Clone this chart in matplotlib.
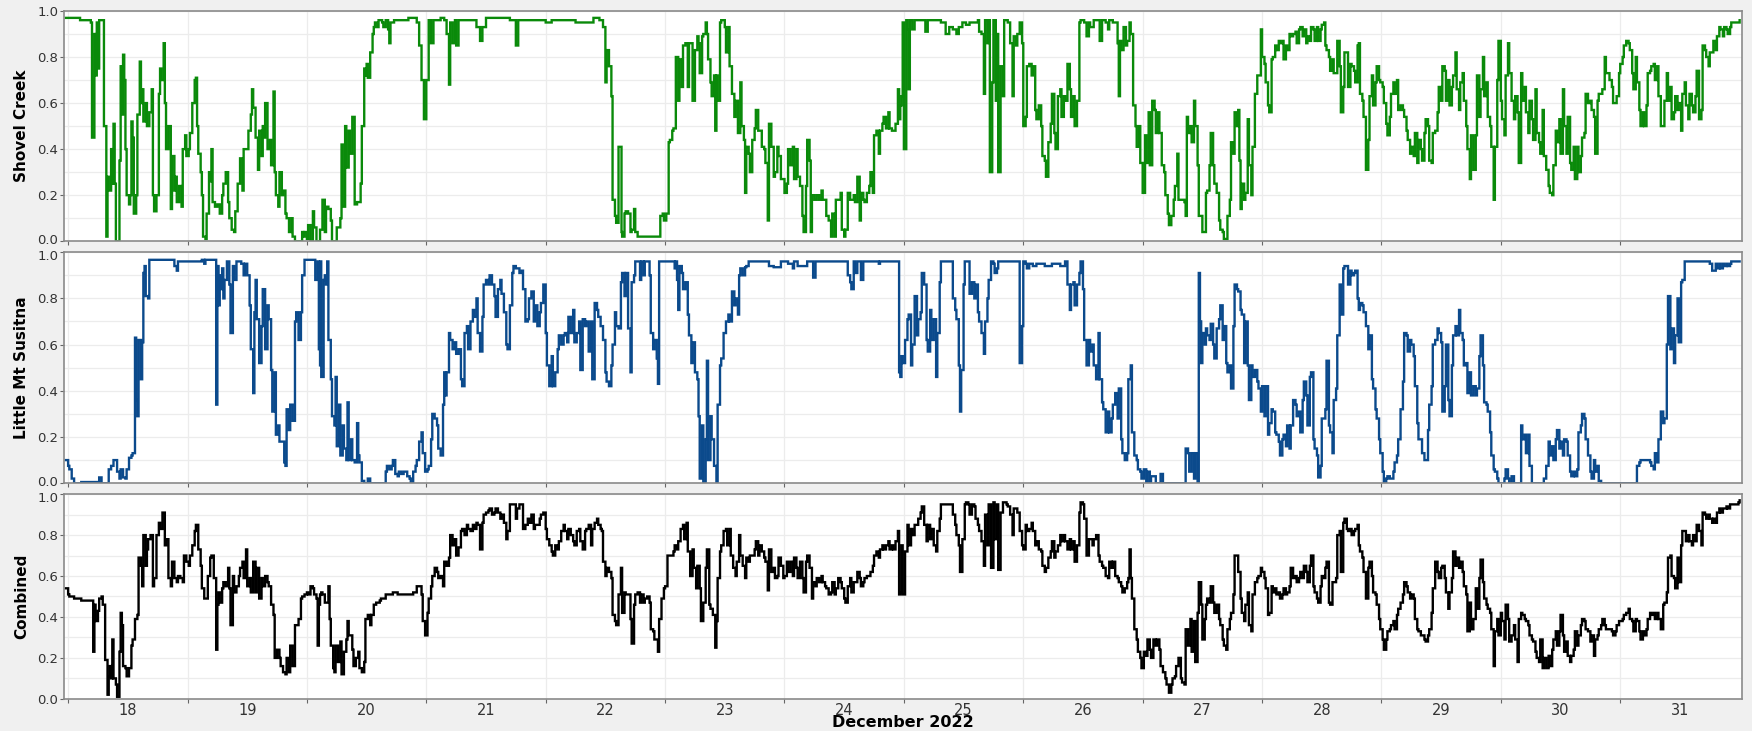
import matplotlib
matplotlib.use("Agg")
import matplotlib.pyplot as plt
import numpy as np
from matplotlib.transforms import ScaledTranslation

# (day of December 2022, value)
shovel_creek = [
    (17.48, 0.97), (17.60, 0.96), (17.69, 0.95), (17.70, 0.45), (17.72, 0.90), (17.73, 0.72), (17.74, 0.95),
    (17.75, 0.75), (17.76, 0.96), (17.79, 0.96), (17.80, 0.50), (17.82, 0.02), (17.83, 0.28), (17.84, 0.22),
    (17.86, 0.40), (17.87, 0.25), (17.88, 0.51), (17.89, 0.25), (17.90, 0.00), (17.92, 0.00), (17.93, 0.35),
    (17.94, 0.76), (17.95, 0.55), (17.96, 0.81), (17.97, 0.70), (17.98, 0.40), (17.99, 0.20), (18.01, 0.16),
    (18.02, 0.20), (18.03, 0.52), (18.04, 0.45), (18.05, 0.12), (18.07, 0.20), (18.08, 0.55), (18.10, 0.78),
    (18.11, 0.60), (18.12, 0.66), (18.13, 0.52), (18.15, 0.60), (18.16, 0.50), (18.18, 0.56), (18.20, 0.66),
    (18.21, 0.20), (18.22, 0.13), (18.24, 0.20), (18.26, 0.64), (18.27, 0.75), (18.28, 0.70), (18.30, 0.86),
    (18.31, 0.60), (18.32, 0.40), (18.34, 0.50), (18.36, 0.14), (18.37, 0.37), (18.39, 0.22), (18.40, 0.28),
    (18.41, 0.17), (18.43, 0.24), (18.45, 0.15), (18.46, 0.40), (18.48, 0.46), (18.49, 0.37), (18.51, 0.40),
    (18.52, 0.47), (18.54, 0.60), (18.56, 0.70), (18.57, 0.71), (18.58, 0.50), (18.59, 0.38), (18.61, 0.30),
    (18.62, 0.20), (18.63, 0.02), (18.65, 0.01), (18.66, 0.12), (18.68, 0.30), (18.69, 0.26), (18.70, 0.40),
    (18.71, 0.17), (18.73, 0.15), (18.75, 0.16), (18.77, 0.12), (18.79, 0.20), (18.80, 0.25), (18.82, 0.30),
    (18.84, 0.17), (18.85, 0.10), (18.87, 0.05), (18.89, 0.04), (18.90, 0.13), (18.92, 0.25), (18.94, 0.36),
    (18.96, 0.22), (18.97, 0.40), (18.99, 0.40), (19.01, 0.48), (19.03, 0.55), (19.04, 0.66), (19.05, 0.58),
    (19.07, 0.45), (19.09, 0.31), (19.10, 0.48), (19.12, 0.37), (19.13, 0.50), (19.14, 0.45), (19.15, 0.60),
    (19.17, 0.40), (19.19, 0.44), (19.20, 0.33), (19.22, 0.65), (19.23, 0.30), (19.24, 0.20), (19.26, 0.15),
    (19.27, 0.30), (19.29, 0.20), (19.30, 0.22), (19.32, 0.12), (19.33, 0.10), (19.35, 0.04), (19.37, 0.10),
    (19.38, 0.02), (19.40, 0.00), (19.45, 0.00), (19.46, 0.04), (19.47, 0.02), (19.48, 0.04), (19.50, 0.01),
    (19.51, 0.07), (19.53, 0.00), (19.55, 0.13), (19.56, 0.06), (19.58, 0.00), (19.60, 0.00), (19.61, 0.05),
    (19.63, 0.18), (19.65, 0.04), (19.66, 0.15), (19.68, 0.14), (19.70, 0.09), (19.71, 0.00), (19.73, 0.00),
    (19.75, 0.06), (19.76, 0.06), (19.78, 0.10), (19.79, 0.42), (19.80, 0.15), (19.82, 0.50), (19.83, 0.32),
    (19.85, 0.48), (19.86, 0.38), (19.88, 0.54), (19.89, 0.54), (19.90, 0.16), (19.92, 0.17), (19.93, 0.17),
    (19.95, 0.25), (19.96, 0.50), (19.98, 0.75), (19.99, 0.72), (20.00, 0.77), (20.01, 0.71), (20.03, 0.82),
    (20.05, 0.90), (20.06, 0.93), (20.07, 0.95), (20.09, 0.93), (20.10, 0.96), (20.13, 0.95), (20.14, 0.93),
    (20.16, 0.96), (20.18, 0.92), (20.19, 0.86), (20.20, 0.95), (20.23, 0.96), (20.30, 0.96), (20.35, 0.97),
    (20.40, 0.97), (20.42, 0.95), (20.44, 0.85), (20.46, 0.70), (20.48, 0.53), (20.50, 0.70), (20.52, 0.96),
    (20.54, 0.86), (20.56, 0.96), (20.62, 0.97), (20.65, 0.96), (20.67, 0.90), (20.69, 0.68), (20.70, 0.95),
    (20.72, 0.86), (20.74, 0.96), (20.75, 0.85), (20.77, 0.96), (20.90, 0.96), (20.92, 0.93), (20.95, 0.87),
    (20.97, 0.93), (21.00, 0.97), (21.20, 0.96), (21.24, 0.96), (21.25, 0.85), (21.27, 0.96), (21.50, 0.95),
    (21.55, 0.96), (21.75, 0.95), (21.90, 0.97), (21.95, 0.96),
    (21.97, 0.96), (21.98, 0.93), (22.00, 0.69), (22.01, 0.83), (22.03, 0.76), (22.05, 0.63), (22.06, 0.18),
    (22.08, 0.11), (22.09, 0.08), (22.11, 0.41), (22.13, 0.41), (22.135, 0.04), (22.14, 0.02), (22.16, 0.12),
    (22.17, 0.13), (22.19, 0.12), (22.21, 0.04), (22.22, 0.05), (22.24, 0.14), (22.25, 0.04), (22.27, 0.02),
    (22.45, 0.02), (22.46, 0.11), (22.48, 0.12), (22.49, 0.09), (22.51, 0.12), (22.53, 0.43), (22.54, 0.44),
    (22.56, 0.48), (22.57, 0.49), (22.59, 0.80), (22.61, 0.61), (22.62, 0.79), (22.64, 0.67), (22.65, 0.85),
    (22.67, 0.86), (22.69, 0.67), (22.70, 0.86), (22.72, 0.86), (22.73, 0.61), (22.75, 0.83), (22.77, 0.89),
    (22.78, 0.86), (22.79, 0.73), (22.81, 0.89), (22.82, 0.90), (22.84, 0.95), (22.85, 0.90), (22.86, 0.79),
    (22.88, 0.69), (22.89, 0.63), (22.91, 0.72), (22.92, 0.48), (22.93, 0.72), (22.94, 0.61), (22.96, 0.95),
    (22.97, 0.96), (22.99, 0.96), (23.00, 0.93), (23.01, 0.82), (23.03, 0.93), (23.04, 0.76), (23.06, 0.64),
    (23.08, 0.54), (23.09, 0.61), (23.11, 0.47), (23.13, 0.69), (23.14, 0.50), (23.16, 0.44), (23.17, 0.21),
    (23.18, 0.41), (23.20, 0.38), (23.21, 0.30), (23.23, 0.44), (23.25, 0.49), (23.26, 0.57), (23.28, 0.48),
    (23.29, 0.48), (23.31, 0.41), (23.33, 0.40), (23.34, 0.34), (23.36, 0.09), (23.37, 0.51), (23.39, 0.41),
    (23.41, 0.28), (23.42, 0.30), (23.44, 0.41), (23.45, 0.37), (23.47, 0.27), (23.50, 0.21), (23.52, 0.25),
    (23.53, 0.40), (23.55, 0.33), (23.57, 0.41), (23.58, 0.27), (23.60, 0.40), (23.61, 0.28), (23.63, 0.24),
    (23.65, 0.11), (23.66, 0.04), (23.68, 0.24), (23.69, 0.44), (23.71, 0.35), (23.72, 0.04), (23.73, 0.20),
    (23.75, 0.18), (23.77, 0.20), (23.79, 0.18), (23.81, 0.22), (23.82, 0.18), (23.84, 0.18), (23.85, 0.11),
    (23.87, 0.09), (23.89, 0.02), (23.90, 0.12), (23.92, 0.02), (23.93, 0.18), (23.95, 0.18), (23.97, 0.21),
    (23.98, 0.05), (24.00, 0.02), (24.01, 0.05), (24.03, 0.21), (24.05, 0.18), (24.06, 0.18), (24.08, 0.20),
    (24.09, 0.17), (24.11, 0.28), (24.13, 0.09), (24.14, 0.21), (24.16, 0.18), (24.17, 0.17), (24.19, 0.21),
    (24.21, 0.24), (24.22, 0.30), (24.24, 0.21), (24.25, 0.46), (24.27, 0.48), (24.29, 0.38), (24.30, 0.48),
    (24.32, 0.51), (24.33, 0.54), (24.35, 0.49), (24.37, 0.56), (24.38, 0.49), (24.40, 0.48), (24.41, 0.48),
    (24.43, 0.51), (24.45, 0.66), (24.46, 0.53), (24.47, 0.59), (24.48, 0.63), (24.49, 0.95), (24.50, 0.40),
    (24.52, 0.96), (24.53, 0.92), (24.54, 0.66), (24.55, 0.96), (24.57, 0.92), (24.59, 0.96), (24.65, 0.96),
    (24.68, 0.91), (24.70, 0.96), (24.78, 0.96), (24.81, 0.95), (24.85, 0.90), (24.88, 0.93), (24.91, 0.92),
    (24.94, 0.90), (24.96, 0.93), (24.99, 0.95), (25.02, 0.94), (25.05, 0.95), (25.09, 0.95), (25.12, 0.96),
    (25.13, 0.91), (25.15, 0.90), (25.17, 0.64), (25.18, 0.96), (25.20, 0.86), (25.21, 0.96), (25.22, 0.30),
    (25.24, 0.69), (25.25, 0.96), (25.27, 0.61), (25.28, 0.90), (25.29, 0.30), (25.31, 0.76), (25.33, 0.63),
    (25.34, 0.96), (25.37, 0.95), (25.39, 0.86), (25.41, 0.63), (25.42, 0.89), (25.44, 0.85), (25.45, 0.90),
    (25.47, 0.95), (25.49, 0.86), (25.50, 0.50), (25.52, 0.54), (25.53, 0.76), (25.55, 0.77), (25.57, 0.72),
    (25.58, 0.76), (25.60, 0.57), (25.61, 0.53), (25.63, 0.59), (25.65, 0.50), (25.66, 0.37), (25.68, 0.35),
    (25.69, 0.28), (25.71, 0.43), (25.73, 0.51), (25.74, 0.64), (25.76, 0.47), (25.77, 0.40), (25.79, 0.63),
    (25.81, 0.66), (25.82, 0.54), (25.84, 0.63), (25.85, 0.61), (25.87, 0.77), (25.89, 0.66), (25.90, 0.54),
    (25.92, 0.63), (25.93, 0.50), (25.95, 0.61), (25.97, 0.95), (25.98, 0.96), (26.01, 0.95), (26.03, 0.89),
    (26.05, 0.95), (26.06, 0.93), (26.09, 0.96), (26.13, 0.96), (26.14, 0.87), (26.16, 0.96), (26.19, 0.95),
    (26.21, 0.92), (26.22, 0.96), (26.25, 0.95), (26.27, 0.95), (26.29, 0.86), (26.30, 0.63), (26.31, 0.87),
    (26.32, 0.83), (26.34, 0.93), (26.36, 0.85), (26.37, 0.87), (26.39, 0.95), (26.40, 0.90), (26.42, 0.59),
    (26.44, 0.50), (26.45, 0.41), (26.47, 0.50), (26.48, 0.34), (26.50, 0.21), (26.52, 0.46), (26.53, 0.34),
    (26.55, 0.56), (26.56, 0.33), (26.58, 0.61), (26.60, 0.57), (26.61, 0.47), (26.63, 0.56), (26.64, 0.47),
    (26.66, 0.33), (26.68, 0.30), (26.69, 0.20), (26.71, 0.12), (26.72, 0.07), (26.74, 0.11), (26.76, 0.18),
    (26.77, 0.24), (26.79, 0.38), (26.80, 0.18),
    (26.83, 0.18), (26.85, 0.17), (26.86, 0.11), (26.87, 0.54), (26.88, 0.47), (26.90, 0.50), (26.91, 0.43),
    (26.93, 0.61), (26.94, 0.50), (26.96, 0.33), (26.97, 0.11), (26.99, 0.11), (27.00, 0.04), (27.02, 0.04),
    (27.03, 0.21), (27.04, 0.22), (27.06, 0.33), (27.07, 0.47), (27.09, 0.33), (27.10, 0.25), (27.12, 0.21),
    (27.14, 0.09), (27.15, 0.05), (27.17, 0.04), (27.18, 0.01), (27.20, 0.01), (27.21, 0.11), (27.23, 0.18),
    (27.24, 0.43), (27.26, 0.38), (27.27, 0.56), (27.29, 0.50), (27.30, 0.57), (27.31, 0.35), (27.32, 0.14),
    (27.33, 0.25), (27.35, 0.18), (27.36, 0.21), (27.38, 0.53), (27.39, 0.33), (27.41, 0.20), (27.42, 0.41),
    (27.44, 0.64), (27.46, 0.72), (27.47, 0.72), (27.49, 0.92), (27.50, 0.80), (27.52, 0.77), (27.53, 0.69),
    (27.55, 0.59), (27.56, 0.56), (27.58, 0.79), (27.59, 0.80), (27.61, 0.85), (27.62, 0.83), (27.64, 0.87),
    (27.65, 0.86), (27.67, 0.87), (27.68, 0.79), (27.70, 0.85), (27.71, 0.83), (27.73, 0.90), (27.74, 0.89),
    (27.76, 0.90), (27.78, 0.91), (27.79, 0.86), (27.81, 0.92), (27.82, 0.93), (27.84, 0.89), (27.85, 0.92),
    (27.87, 0.86), (27.88, 0.89), (27.90, 0.87), (27.91, 0.93), (27.93, 0.92), (27.94, 0.87), (27.96, 0.93),
    (27.97, 0.87), (27.99, 0.92), (28.00, 0.94), (28.02, 0.95), (28.03, 0.85), (28.04, 0.83), (28.06, 0.80),
    (28.07, 0.74), (28.09, 0.79), (28.10, 0.73), (28.12, 0.73), (28.13, 0.87), (28.15, 0.76), (28.16, 0.56),
    (28.18, 0.67), (28.19, 0.82), (28.21, 0.82), (28.22, 0.67), (28.24, 0.77), (28.25, 0.76), (28.27, 0.74),
    (28.28, 0.69), (28.30, 0.85), (28.31, 0.86), (28.32, 0.64), (28.34, 0.61), (28.35, 0.54), (28.37, 0.31),
    (28.39, 0.44), (28.40, 0.63), (28.42, 0.72), (28.43, 0.59), (28.45, 0.69), (28.46, 0.76), (28.48, 0.70),
    (28.49, 0.69), (28.51, 0.67), (28.52, 0.60), (28.54, 0.51), (28.55, 0.46), (28.57, 0.54), (28.58, 0.64),
    (28.60, 0.69), (28.61, 0.64), (28.63, 0.70), (28.64, 0.57), (28.66, 0.59), (28.68, 0.57), (28.69, 0.54),
    (28.71, 0.48), (28.72, 0.44), (28.74, 0.38), (28.75, 0.41), (28.77, 0.37), (28.78, 0.47), (28.80, 0.34),
    (28.81, 0.44), (28.83, 0.40), (28.84, 0.35), (28.86, 0.47), (28.87, 0.53), (28.89, 0.50), (28.90, 0.35),
    (28.92, 0.34), (28.93, 0.47), (28.95, 0.48), (28.97, 0.56), (28.98, 0.67), (29.00, 0.61), (29.01, 0.76),
    (29.03, 0.74), (29.04, 0.61), (29.06, 0.70), (29.07, 0.59), (29.09, 0.67), (29.10, 0.72), (29.12, 0.82),
    (29.13, 0.66), (29.15, 0.57), (29.16, 0.69), (29.18, 0.73), (29.19, 0.61), (29.21, 0.50), (29.22, 0.40),
    (29.24, 0.27), (29.25, 0.46), (29.27, 0.31), (29.29, 0.46), (29.30, 0.72), (29.32, 0.54), (29.33, 0.66),
    (29.35, 0.80), (29.36, 0.63), (29.38, 0.69), (29.39, 0.54), (29.41, 0.50), (29.42, 0.41), (29.44, 0.18),
    (29.45, 0.41), (29.47, 0.70), (29.48, 0.87), (29.50, 0.61), (29.51, 0.53), (29.53, 0.46), (29.54, 0.72),
    (29.56, 0.86), (29.57, 0.73), (29.59, 0.61), (29.61, 0.53), (29.62, 0.63), (29.64, 0.56), (29.65, 0.34),
    (29.67, 0.73), (29.68, 0.61), (29.70, 0.67), (29.71, 0.56), (29.73, 0.47), (29.74, 0.61), (29.76, 0.53),
    (29.77, 0.44), (29.79, 0.66), (29.80, 0.47), (29.82, 0.43), (29.83, 0.38), (29.85, 0.57), (29.86, 0.37),
    (29.88, 0.31), (29.90, 0.24), (29.91, 0.21), (29.93, 0.20), (29.94, 0.33), (29.96, 0.48), (29.97, 0.43),
    (29.99, 0.53), (30.00, 0.38), (30.02, 0.66), (30.03, 0.50), (30.05, 0.38), (30.06, 0.54), (30.08, 0.34),
    (30.09, 0.31), (30.11, 0.41), (30.12, 0.27), (30.14, 0.41), (30.15, 0.30), (30.17, 0.37), (30.18, 0.45),
    (30.20, 0.47), (30.21, 0.64), (30.23, 0.60), (30.25, 0.61), (30.26, 0.57), (30.28, 0.54), (30.29, 0.38),
    (30.31, 0.61), (30.32, 0.64), (30.35, 0.66), (30.37, 0.80), (30.38, 0.73), (30.41, 0.70), (30.43, 0.67),
    (30.44, 0.60), (30.47, 0.63), (30.49, 0.73), (30.50, 0.77), (30.52, 0.80), (30.53, 0.85), (30.55, 0.87),
    (30.57, 0.86), (30.58, 0.83), (30.60, 0.73), (30.61, 0.66), (30.63, 0.80), (30.64, 0.69), (30.66, 0.57),
    (30.67, 0.50), (30.69, 0.56), (30.70, 0.50), (30.72, 0.59), (30.73, 0.73), (30.75, 0.74), (30.76, 0.76),
    (30.78, 0.77), (30.79, 0.70), (30.81, 0.76), (30.82, 0.63), (30.84, 0.50), (30.86, 0.50), (30.87, 0.61),
    (30.89, 0.73), (30.90, 0.61), (30.92, 0.67), (30.93, 0.53), (30.95, 0.56), (30.96, 0.63), (30.98, 0.57),
    (30.99, 0.60), (31.01, 0.48), (31.02, 0.64), (31.04, 0.69), (31.05, 0.59), (31.07, 0.53), (31.08, 0.64),
    (31.10, 0.59), (31.11, 0.56), (31.13, 0.63), (31.14, 0.74), (31.16, 0.53), (31.18, 0.57), (31.19, 0.85),
    (31.21, 0.83), (31.22, 0.80), (31.24, 0.76), (31.25, 0.82), (31.27, 0.82), (31.28, 0.87), (31.30, 0.83),
    (31.31, 0.89), (31.33, 0.93), (31.34, 0.92), (31.36, 0.89), (31.37, 0.93), (31.39, 0.92), (31.40, 0.90),
    (31.42, 0.93), (31.43, 0.95), (31.46, 0.95), (31.50, 0.96),
]

little_mt_susitna = [
    (17.48, 0.10), (17.50, 0.075), (17.51, 0.06), (17.53, 0.02), (17.55, 0.0), (17.61, 0.005), (17.75, 0.0),
    (17.76, 0.025), (17.78, 0.0), (17.83, 0.0), (17.84, 0.06), (17.86, 0.075), (17.88, 0.10), (17.89, 0.10),
    (17.91, 0.05), (17.93, 0.02), (17.94, 0.06), (17.96, 0.025), (17.98, 0.02), (17.99, 0.06), (18.01, 0.11),
    (18.03, 0.12), (18.04, 0.13), (18.06, 0.63), (18.07, 0.36), (18.08, 0.29), (18.09, 0.62), (18.11, 0.45),
    (18.12, 0.61), (18.13, 0.91), (18.14, 0.94), (18.15, 0.81), (18.17, 0.80), (18.18, 0.967), (18.37, 0.967),
    (18.39, 0.94), (18.41, 0.92), (18.42, 0.96), (18.62, 0.967), (18.64, 0.95), (18.65, 0.967), (18.72, 0.967),
    (18.74, 0.34), (18.75, 0.94), (18.76, 0.77), (18.77, 0.90), (18.78, 0.84), (18.79, 0.93), (18.80, 0.80),
    (18.81, 0.88), (18.83, 0.96), (18.84, 0.96), (18.85, 0.86), (18.86, 0.65), (18.88, 0.94), (18.89, 0.88),
    (18.91, 0.96), (18.94, 0.96), (18.95, 0.95), (18.97, 0.90), (18.98, 0.95), (19.00, 0.90), (19.02, 0.77),
    (19.03, 0.58), (19.05, 0.39), (19.06, 0.74), (19.07, 0.88), (19.08, 0.71), (19.10, 0.52), (19.12, 0.68),
    (19.13, 0.84), (19.15, 0.58), (19.17, 0.77), (19.18, 0.71), (19.20, 0.49), (19.21, 0.31), (19.23, 0.48),
    (19.24, 0.21), (19.26, 0.25), (19.27, 0.18), (19.29, 0.18), (19.31, 0.09), (19.32, 0.075), (19.33, 0.32),
    (19.35, 0.23), (19.36, 0.34), (19.38, 0.27), (19.40, 0.70), (19.41, 0.74), (19.43, 0.62), (19.45, 0.74),
    (19.46, 0.90), (19.48, 0.967), (19.56, 0.967), (19.57, 0.88), (19.59, 0.96), (19.60, 0.58), (19.61, 0.51),
    (19.615, 0.96), (19.62, 0.46), (19.64, 0.88), (19.65, 0.90), (19.66, 0.86), (19.67, 0.96), (19.68, 0.62),
    (19.70, 0.45), (19.71, 0.29), (19.73, 0.25), (19.74, 0.46), (19.75, 0.16), (19.77, 0.34), (19.78, 0.12),
    (19.80, 0.25), (19.81, 0.15), (19.83, 0.10), (19.84, 0.35), (19.85, 0.10), (19.87, 0.19), (19.88, 0.10),
    (19.90, 0.09), (19.92, 0.26), (19.93, 0.12), (19.94, 0.09), (19.96, 0.01), (19.98, 0.0), (20.01, 0.02),
    (20.03, 0.0), (20.14, 0.0), (20.16, 0.05), (20.17, 0.075), (20.19, 0.06), (20.21, 0.075), (20.22, 0.10),
    (20.24, 0.04), (20.26, 0.03), (20.27, 0.05), (20.29, 0.04), (20.31, 0.05), (20.32, 0.05), (20.34, 0.03),
    (20.36, 0.02), (20.37, 0.0), (20.39, 0.05), (20.41, 0.075), (20.42, 0.10), (20.44, 0.18), (20.46, 0.22),
    (20.47, 0.13), (20.49, 0.05), (20.51, 0.06), (20.52, 0.075), (20.54, 0.19), (20.55, 0.30), (20.57, 0.28),
    (20.59, 0.25), (20.60, 0.15), (20.62, 0.12), (20.64, 0.34), (20.65, 0.48), (20.66, 0.38), (20.67, 0.48),
    (20.69, 0.65), (20.70, 0.62), (20.72, 0.58), (20.74, 0.61), (20.75, 0.56), (20.77, 0.58), (20.79, 0.45),
    (20.80, 0.42), (20.82, 0.65), (20.84, 0.68), (20.85, 0.58), (20.87, 0.70), (20.89, 0.75), (20.90, 0.72),
    (20.92, 0.80), (20.93, 0.65), (20.95, 0.57), (20.97, 0.72), (20.98, 0.86), (21.00, 0.88), (21.02, 0.86),
    (21.03, 0.90), (21.05, 0.86), (21.07, 0.81), (21.08, 0.72), (21.10, 0.84), (21.12, 0.88), (21.13, 0.82),
    (21.15, 0.74), (21.17, 0.60), (21.18, 0.58), (21.20, 0.77), (21.22, 0.91), (21.23, 0.94), (21.25, 0.93),
    (21.26, 0.93), (21.28, 0.91), (21.30, 0.92), (21.31, 0.84), (21.33, 0.70), (21.35, 0.71), (21.36, 0.80),
    (21.38, 0.83), (21.40, 0.70), (21.41, 0.77), (21.43, 0.68), (21.45, 0.74), (21.46, 0.78), (21.48, 0.86),
    (21.50, 0.65), (21.51, 0.51), (21.53, 0.42), (21.55, 0.55), (21.56, 0.42), (21.58, 0.48), (21.60, 0.58),
    (21.61, 0.64), (21.63, 0.60), (21.65, 0.64), (21.66, 0.65), (21.68, 0.61), (21.69, 0.72), (21.71, 0.65),
    (21.73, 0.75), (21.74, 0.61), (21.76, 0.65), (21.78, 0.70), (21.79, 0.49), (21.81, 0.71), (21.83, 0.68),
    (21.84, 0.70), (21.86, 0.57), (21.88, 0.70), (21.89, 0.45), (21.91, 0.78), (21.93, 0.75), (21.94, 0.72),
    (21.96, 0.68),
    (21.97, 0.68), (21.98, 0.62), (22.00, 0.48), (22.01, 0.44), (22.03, 0.42), (22.05, 0.51), (22.06, 0.60),
    (22.08, 0.74), (22.09, 0.68), (22.11, 0.67), (22.13, 0.87), (22.14, 0.91), (22.16, 0.81), (22.17, 0.91),
    (22.19, 0.67), (22.21, 0.48), (22.22, 0.87), (22.24, 0.90), (22.25, 0.96), (22.27, 0.96), (22.29, 0.88),
    (22.30, 0.96), (22.32, 0.90), (22.33, 0.96), (22.35, 0.96), (22.37, 0.90), (22.38, 0.65), (22.40, 0.58),
    (22.41, 0.62), (22.43, 0.54), (22.44, 0.43), (22.45, 0.96), (22.57, 0.96), (22.58, 0.93), (22.59, 0.96),
    (22.60, 0.88), (22.61, 0.75), (22.62, 0.94), (22.64, 0.91), (22.65, 0.84), (22.67, 0.87), (22.69, 0.73),
    (22.70, 0.64), (22.72, 0.52), (22.73, 0.61), (22.75, 0.48), (22.77, 0.45), (22.78, 0.29), (22.79, 0.02),
    (22.81, 0.25), (22.82, 0.0), (22.84, 0.19), (22.85, 0.53), (22.86, 0.10), (22.88, 0.29), (22.89, 0.19),
    (22.91, 0.075), (22.93, 0.0), (22.94, 0.34), (22.96, 0.51), (22.97, 0.54), (22.99, 0.65), (23.01, 0.70),
    (23.03, 0.73), (23.04, 0.70), (23.06, 0.83), (23.08, 0.77), (23.09, 0.80), (23.11, 0.73), (23.12, 0.90),
    (23.13, 0.93), (23.15, 0.90), (23.17, 0.935), (23.18, 0.94), (23.20, 0.96), (23.23, 0.96), (23.37, 0.94),
    (23.41, 0.935), (23.47, 0.96), (23.53, 0.95), (23.57, 0.93), (23.58, 0.96), (23.61, 0.94), (23.69, 0.96),
    (23.74, 0.89), (23.76, 0.96), (24.01, 0.96), (24.03, 0.90), (24.05, 0.87), (24.06, 0.84), (24.08, 0.96),
    (24.09, 0.91), (24.11, 0.96), (24.14, 0.88), (24.16, 0.96), (24.29, 0.95), (24.30, 0.96), (24.45, 0.96),
    (24.46, 0.48), (24.47, 0.46), (24.48, 0.55), (24.49, 0.52), (24.51, 0.62), (24.53, 0.71), (24.54, 0.73),
    (24.56, 0.51), (24.57, 0.60), (24.59, 0.81), (24.61, 0.64), (24.62, 0.71), (24.64, 0.74), (24.65, 0.91),
    (24.67, 0.86), (24.69, 0.62), (24.70, 0.57), (24.72, 0.75), (24.73, 0.62), (24.75, 0.71), (24.77, 0.46),
    (24.78, 0.65), (24.80, 0.87), (24.81, 0.96), (24.89, 0.96), (24.91, 0.80), (24.93, 0.75), (24.94, 0.71),
    (24.96, 0.51), (24.97, 0.31), (24.98, 0.49), (25.00, 0.86), (25.01, 0.96), (25.04, 0.96), (25.05, 0.82),
    (25.07, 0.87), (25.09, 0.80), (25.10, 0.86), (25.12, 0.74), (25.13, 0.70), (25.15, 0.65), (25.17, 0.56),
    (25.18, 0.70), (25.20, 0.80), (25.21, 0.88), (25.23, 0.96), (25.25, 0.95), (25.26, 0.91), (25.28, 0.93),
    (25.29, 0.96), (25.45, 0.96), (25.47, 0.52), (25.49, 0.68), (25.50, 0.96), (25.52, 0.95), (25.53, 0.93),
    (25.55, 0.95), (25.58, 0.94), (25.61, 0.95), (25.68, 0.94), (25.74, 0.95), (25.81, 0.94), (25.85, 0.96),
    (25.87, 0.86), (25.89, 0.75), (25.90, 0.86), (25.92, 0.87), (25.93, 0.77), (25.95, 0.86), (25.97, 0.91),
    (25.98, 0.96), (26.00, 0.84), (26.01, 0.62), (26.03, 0.51), (26.05, 0.62), (26.06, 0.57), (26.08, 0.60),
    (26.09, 0.51), (26.11, 0.45), (26.13, 0.65), (26.14, 0.45), (26.16, 0.35), (26.17, 0.32), (26.19, 0.22),
    (26.21, 0.31), (26.22, 0.22), (26.24, 0.28), (26.25, 0.34), (26.27, 0.39), (26.29, 0.28), (26.30, 0.41),
    (26.32, 0.19), (26.33, 0.13), (26.35, 0.10), (26.37, 0.13), (26.38, 0.45), (26.40, 0.51), (26.41, 0.22),
    (26.43, 0.12), (26.45, 0.10), (26.46, 0.06), (26.48, 0.05), (26.49, 0.02), (26.51, 0.06), (26.53, 0.0),
    (26.54, 0.05), (26.56, 0.0), (26.57, 0.03), (26.61, 0.0), (26.65, 0.04), (26.67, 0.0), (26.85, 0.0),
    (26.86, 0.15), (26.88, 0.13), (26.89, 0.05), (26.91, 0.13), (26.93, 0.02), (26.94, 0.13), (26.96, 0.0),
    (26.97, 0.91), (26.98, 0.70), (26.99, 0.52), (27.00, 0.65), (27.02, 0.60), (27.03, 0.67), (27.04, 0.64),
    (27.06, 0.62), (27.07, 0.69), (27.09, 0.60), (27.10, 0.54), (27.12, 0.67), (27.14, 0.71), (27.15, 0.77),
    (27.17, 0.62), (27.18, 0.68), (27.20, 0.52), (27.21, 0.48), (27.23, 0.51), (27.24, 0.41), (27.26, 0.68),
    (27.27, 0.86), (27.29, 0.84), (27.30, 0.83), (27.32, 0.75), (27.33, 0.73), (27.35, 0.52), (27.36, 0.70),
    (27.38, 0.51), (27.39, 0.36), (27.41, 0.51), (27.42, 0.46), (27.44, 0.49), (27.46, 0.44), (27.47, 0.41),
    (27.49, 0.31), (27.50, 0.42), (27.52, 0.29), (27.53, 0.42), (27.55, 0.21), (27.56, 0.26), (27.58, 0.32),
    (27.59, 0.31), (27.61, 0.22), (27.62, 0.21), (27.64, 0.18), (27.65, 0.12), (27.67, 0.19), (27.68, 0.21),
    (27.70, 0.16), (27.71, 0.25), (27.73, 0.15), (27.74, 0.25), (27.76, 0.36), (27.78, 0.34), (27.79, 0.29),
    (27.81, 0.31), (27.82, 0.22), (27.84, 0.36), (27.85, 0.44), (27.87, 0.38), (27.88, 0.25), (27.90, 0.46),
    (27.91, 0.48), (27.93, 0.19), (27.94, 0.15), (27.96, 0.12), (27.97, 0.025), (27.99, 0.075), (28.00, 0.28),
    (28.02, 0.28), (28.03, 0.32), (28.04, 0.53), (28.06, 0.25), (28.07, 0.22), (28.09, 0.13), (28.10, 0.36),
    (28.12, 0.41), (28.13, 0.64), (28.15, 0.86), (28.16, 0.73), (28.18, 0.93), (28.19, 0.94), (28.21, 0.94),
    (28.22, 0.86), (28.24, 0.92), (28.25, 0.90), (28.27, 0.91), (28.28, 0.92), (28.30, 0.80), (28.31, 0.75),
    (28.32, 0.78), (28.34, 0.77), (28.35, 0.74), (28.37, 0.68), (28.39, 0.58), (28.40, 0.64), (28.42, 0.45),
    (28.43, 0.41), (28.45, 0.32), (28.46, 0.28), (28.48, 0.19), (28.49, 0.13), (28.51, 0.05), (28.52, 0.0),
    (28.54, 0.02), (28.55, 0.03), (28.57, 0.02), (28.58, 0.02), (28.60, 0.05), (28.61, 0.09), (28.63, 0.12),
    (28.64, 0.19), (28.66, 0.32), (28.68, 0.44), (28.69, 0.65), (28.71, 0.64), (28.72, 0.57), (28.74, 0.62),
    (28.75, 0.60), (28.77, 0.55), (28.78, 0.42), (28.80, 0.26), (28.81, 0.19), (28.83, 0.19), (28.84, 0.13),
    (28.86, 0.10), (28.87, 0.10), (28.89, 0.23), (28.90, 0.34), (28.92, 0.42), (28.93, 0.60), (28.95, 0.62),
    (28.97, 0.67), (28.98, 0.65), (29.00, 0.61), (29.01, 0.31), (29.03, 0.42), (29.04, 0.60), (29.06, 0.36),
    (29.07, 0.29), (29.09, 0.51), (29.10, 0.64), (29.12, 0.68), (29.13, 0.64), (29.15, 0.75), (29.16, 0.65),
    (29.18, 0.62), (29.19, 0.51), (29.21, 0.52), (29.22, 0.39), (29.24, 0.48), (29.25, 0.38), (29.27, 0.42),
    (29.29, 0.38), (29.30, 0.41), (29.32, 0.55), (29.33, 0.64), (29.35, 0.51), (29.36, 0.35), (29.38, 0.34),
    (29.39, 0.31), (29.41, 0.22), (29.42, 0.12), (29.44, 0.06), (29.45, 0.05), (29.47, 0.02), (29.48, 0.0),
    (29.51, 0.0), (29.53, 0.02), (29.54, 0.06), (29.56, 0.02), (29.57, 0.0), (29.59, 0.03), (29.61, 0.0),
    (29.65, 0.0), (29.67, 0.25), (29.68, 0.19), (29.70, 0.21), (29.71, 0.13), (29.73, 0.21), (29.74, 0.075),
    (29.76, 0.0), (29.85, 0.0), (29.86, 0.02), (29.88, 0.075), (29.90, 0.18), (29.91, 0.12), (29.93, 0.16),
    (29.94, 0.10), (29.96, 0.19), (29.97, 0.23), (29.99, 0.15), (30.00, 0.18), (30.02, 0.12), (30.03, 0.19),
    (30.05, 0.18), (30.06, 0.12), (30.08, 0.05), (30.09, 0.03), (30.11, 0.05), (30.12, 0.03), (30.14, 0.06),
    (30.15, 0.22), (30.17, 0.25), (30.18, 0.30), (30.20, 0.28), (30.21, 0.19), (30.23, 0.12), (30.25, 0.05),
    (30.26, 0.02), (30.28, 0.10), (30.29, 0.05), (30.31, 0.075), (30.32, 0.01), (30.34, 0.0), (30.63, 0.0),
    (30.64, 0.075), (30.66, 0.09), (30.67, 0.10), (30.70, 0.10), (30.73, 0.10), (30.75, 0.09), (30.76, 0.075),
    (30.78, 0.06), (30.79, 0.13), (30.81, 0.09), (30.82, 0.19), (30.84, 0.31), (30.86, 0.26), (30.87, 0.28),
    (30.89, 0.60), (30.90, 0.81), (30.92, 0.58), (30.93, 0.67), (30.95, 0.52), (30.96, 0.64), (30.98, 0.80),
    (30.99, 0.61), (31.01, 0.87), (31.02, 0.88), (31.04, 0.96), (31.05, 0.96), (31.24, 0.96), (31.25, 0.95),
    (31.27, 0.92), (31.28, 0.92), (31.30, 0.95), (31.31, 0.93), (31.33, 0.95), (31.34, 0.93), (31.36, 0.95),
    (31.37, 0.94), (31.39, 0.95), (31.40, 0.94), (31.42, 0.95), (31.43, 0.96), (31.50, 0.96),
]

combined = [
    (17.48, 0.54), (17.50, 0.51), (17.51, 0.50), (17.55, 0.49), (17.58, 0.49), (17.61, 0.48), (17.66, 0.48),
    (17.70, 0.48), (17.71, 0.23), (17.72, 0.46), (17.73, 0.38), (17.75, 0.43), (17.76, 0.49), (17.78, 0.50),
    (17.79, 0.46), (17.81, 0.19), (17.83, 0.02), (17.84, 0.11), (17.85, 0.16), (17.86, 0.10), (17.87, 0.29),
    (17.88, 0.10), (17.90, 0.07), (17.91, 0.01), (17.93, 0.23), (17.94, 0.42), (17.95, 0.36), (17.96, 0.16),
    (17.98, 0.15), (17.99, 0.11), (18.01, 0.15), (18.03, 0.26), (18.04, 0.29), (18.06, 0.39), (18.08, 0.41),
    (18.09, 0.69), (18.11, 0.65), (18.12, 0.55), (18.13, 0.80), (18.15, 0.65), (18.16, 0.73), (18.17, 0.78),
    (18.19, 0.80), (18.21, 0.55), (18.22, 0.59), (18.24, 0.80), (18.26, 0.86), (18.27, 0.83), (18.29, 0.91),
    (18.31, 0.75), (18.32, 0.78), (18.34, 0.59), (18.36, 0.55), (18.37, 0.67), (18.39, 0.59), (18.41, 0.57),
    (18.42, 0.60), (18.44, 0.59), (18.46, 0.57), (18.47, 0.70), (18.49, 0.67), (18.51, 0.65), (18.52, 0.70),
    (18.54, 0.75), (18.56, 0.82), (18.57, 0.85), (18.59, 0.73), (18.61, 0.65), (18.62, 0.54), (18.64, 0.49),
    (18.65, 0.49), (18.67, 0.60), (18.69, 0.69), (18.70, 0.70), (18.72, 0.59), (18.74, 0.24), (18.75, 0.46),
    (18.76, 0.52), (18.77, 0.47), (18.79, 0.54), (18.80, 0.57), (18.82, 0.55), (18.84, 0.64), (18.85, 0.54),
    (18.86, 0.36), (18.88, 0.60), (18.89, 0.52), (18.91, 0.55), (18.93, 0.60), (18.94, 0.64), (18.96, 0.67),
    (18.97, 0.59), (18.99, 0.73), (19.00, 0.55), (19.02, 0.59), (19.03, 0.52), (19.05, 0.67), (19.07, 0.52),
    (19.08, 0.64), (19.10, 0.49), (19.12, 0.59), (19.13, 0.55), (19.15, 0.60), (19.17, 0.57), (19.18, 0.55),
    (19.20, 0.46), (19.22, 0.41), (19.23, 0.20), (19.25, 0.24), (19.27, 0.20), (19.28, 0.16), (19.30, 0.13),
    (19.32, 0.12), (19.33, 0.20), (19.35, 0.13), (19.36, 0.26), (19.38, 0.16), (19.40, 0.36), (19.41, 0.36),
    (19.43, 0.39), (19.45, 0.49), (19.46, 0.50), (19.48, 0.51), (19.50, 0.52), (19.51, 0.51), (19.53, 0.55),
    (19.55, 0.54), (19.56, 0.51), (19.58, 0.49), (19.59, 0.26), (19.60, 0.46), (19.61, 0.51), (19.62, 0.52),
    (19.63, 0.51), (19.65, 0.47), (19.66, 0.47), (19.68, 0.55), (19.69, 0.39), (19.70, 0.26), (19.72, 0.15),
    (19.73, 0.13), (19.74, 0.26), (19.76, 0.18), (19.78, 0.28), (19.79, 0.12), (19.81, 0.23), (19.83, 0.29),
    (19.84, 0.38), (19.85, 0.31), (19.88, 0.24), (19.89, 0.16), (19.91, 0.20), (19.93, 0.23), (19.94, 0.15),
    (19.96, 0.13), (19.98, 0.18), (19.99, 0.39), (20.01, 0.41), (20.03, 0.36), (20.04, 0.41), (20.06, 0.46),
    (20.08, 0.47), (20.09, 0.47), (20.11, 0.48), (20.12, 0.49), (20.16, 0.51), (20.19, 0.51), (20.22, 0.52),
    (20.26, 0.51), (20.29, 0.51), (20.32, 0.51), (20.36, 0.51), (20.39, 0.52), (20.42, 0.55), (20.44, 0.55),
    (20.46, 0.51), (20.47, 0.38), (20.49, 0.31), (20.51, 0.42), (20.52, 0.49), (20.54, 0.55), (20.55, 0.60),
    (20.57, 0.64), (20.59, 0.62), (20.60, 0.59), (20.62, 0.60), (20.64, 0.55), (20.65, 0.67), (20.67, 0.65),
    (20.69, 0.69), (20.70, 0.80), (20.72, 0.75), (20.74, 0.78), (20.75, 0.70), (20.77, 0.74), (20.79, 0.82),
    (20.80, 0.83), (20.82, 0.80), (20.84, 0.85), (20.85, 0.83), (20.87, 0.82), (20.89, 0.85), (20.90, 0.83),
    (20.92, 0.86), (20.93, 0.85), (20.95, 0.73), (20.97, 0.86), (20.98, 0.90), (21.00, 0.91), (21.02, 0.92),
    (21.03, 0.93), (21.05, 0.90), (21.07, 0.91), (21.08, 0.93), (21.10, 0.91), (21.12, 0.88), (21.13, 0.90),
    (21.15, 0.86), (21.17, 0.78), (21.18, 0.82), (21.20, 0.95), (21.22, 0.95), (21.23, 0.95), (21.25, 0.88),
    (21.26, 0.93), (21.28, 0.95), (21.30, 0.95), (21.31, 0.83), (21.33, 0.85), (21.35, 0.88), (21.36, 0.86),
    (21.38, 0.90), (21.40, 0.83), (21.41, 0.85), (21.43, 0.85), (21.45, 0.88), (21.46, 0.90), (21.48, 0.91),
    (21.50, 0.83), (21.51, 0.78), (21.53, 0.75), (21.55, 0.72), (21.56, 0.70), (21.58, 0.75), (21.60, 0.73),
    (21.61, 0.77), (21.63, 0.82), (21.65, 0.85), (21.66, 0.82), (21.68, 0.78), (21.69, 0.83), (21.71, 0.80),
    (21.73, 0.77), (21.74, 0.75), (21.76, 0.82), (21.78, 0.83), (21.79, 0.77), (21.81, 0.73), (21.83, 0.82),
    (21.84, 0.83), (21.86, 0.85), (21.88, 0.75), (21.89, 0.83), (21.91, 0.86), (21.93, 0.88), (21.94, 0.85),
    (21.96, 0.83),
    (21.97, 0.82), (21.98, 0.67), (22.00, 0.60), (22.01, 0.64), (22.03, 0.62), (22.05, 0.59), (22.06, 0.41),
    (22.08, 0.38), (22.09, 0.36), (22.11, 0.51), (22.13, 0.64), (22.14, 0.42), (22.16, 0.52), (22.17, 0.51),
    (22.19, 0.51), (22.21, 0.39), (22.22, 0.27), (22.24, 0.46), (22.25, 0.51), (22.27, 0.52), (22.29, 0.47),
    (22.30, 0.51), (22.32, 0.47), (22.33, 0.49), (22.35, 0.50), (22.37, 0.47), (22.38, 0.34), (22.40, 0.33),
    (22.41, 0.29), (22.43, 0.29), (22.44, 0.23), (22.45, 0.39), (22.47, 0.49), (22.49, 0.54), (22.50, 0.55),
    (22.52, 0.70), (22.53, 0.70), (22.55, 0.70), (22.57, 0.72), (22.58, 0.75), (22.60, 0.73), (22.61, 0.77),
    (22.63, 0.83), (22.65, 0.85), (22.66, 0.78), (22.68, 0.86), (22.69, 0.72), (22.71, 0.60), (22.73, 0.73),
    (22.74, 0.64), (22.76, 0.54), (22.77, 0.65), (22.79, 0.54), (22.80, 0.38), (22.82, 0.47), (22.84, 0.64),
    (22.85, 0.73), (22.87, 0.46), (22.88, 0.44), (22.90, 0.41), (22.92, 0.25), (22.93, 0.38), (22.94, 0.59),
    (22.96, 0.72), (22.97, 0.75), (22.99, 0.82), (23.01, 0.83), (23.02, 0.75), (23.04, 0.83), (23.05, 0.70),
    (23.07, 0.64), (23.09, 0.60), (23.10, 0.67), (23.12, 0.80), (23.13, 0.70), (23.15, 0.65), (23.17, 0.59),
    (23.18, 0.69), (23.20, 0.67), (23.21, 0.70), (23.23, 0.70), (23.25, 0.73), (23.26, 0.77), (23.28, 0.70),
    (23.29, 0.75), (23.31, 0.72), (23.33, 0.69), (23.34, 0.67), (23.36, 0.53), (23.37, 0.73), (23.39, 0.62),
    (23.41, 0.64), (23.42, 0.59), (23.44, 0.60), (23.45, 0.69), (23.47, 0.65), (23.49, 0.59), (23.50, 0.60),
    (23.52, 0.67), (23.53, 0.62), (23.55, 0.67), (23.57, 0.60), (23.58, 0.69), (23.60, 0.64), (23.61, 0.59),
    (23.63, 0.67), (23.65, 0.59), (23.66, 0.52), (23.68, 0.67), (23.69, 0.70), (23.71, 0.64), (23.73, 0.49),
    (23.74, 0.57), (23.76, 0.55), (23.77, 0.59), (23.79, 0.57), (23.81, 0.60), (23.82, 0.57), (23.84, 0.55),
    (23.85, 0.54), (23.87, 0.51), (23.89, 0.52), (23.90, 0.57), (23.92, 0.51), (23.93, 0.54), (23.95, 0.59),
    (23.97, 0.57), (23.98, 0.54), (24.00, 0.49), (24.01, 0.47), (24.03, 0.55), (24.05, 0.59), (24.06, 0.52),
    (24.08, 0.57), (24.09, 0.57), (24.11, 0.62), (24.13, 0.59), (24.14, 0.55), (24.16, 0.57), (24.17, 0.59),
    (24.19, 0.60), (24.21, 0.60), (24.22, 0.62), (24.24, 0.65), (24.25, 0.70), (24.27, 0.72), (24.29, 0.69),
    (24.30, 0.73), (24.32, 0.75), (24.33, 0.73), (24.35, 0.75), (24.37, 0.77), (24.38, 0.73), (24.40, 0.75),
    (24.41, 0.73), (24.43, 0.77), (24.45, 0.82), (24.46, 0.51), (24.47, 0.52), (24.48, 0.75), (24.49, 0.51),
    (24.51, 0.72), (24.53, 0.85), (24.54, 0.75), (24.56, 0.83), (24.57, 0.80), (24.59, 0.85), (24.61, 0.85),
    (24.62, 0.88), (24.64, 0.91), (24.65, 0.94), (24.67, 0.85), (24.69, 0.77), (24.70, 0.85), (24.72, 0.78),
    (24.73, 0.83), (24.75, 0.75), (24.77, 0.72), (24.78, 0.82), (24.80, 0.88), (24.81, 0.95), (24.83, 0.95),
    (24.85, 0.95), (24.86, 0.95), (24.88, 0.95), (24.89, 0.95), (24.91, 0.90), (24.93, 0.85), (24.94, 0.80),
    (24.96, 0.75), (24.97, 0.62), (24.99, 0.78), (25.01, 0.95), (25.02, 0.96), (25.04, 0.95), (25.05, 0.90),
    (25.07, 0.95), (25.09, 0.94), (25.10, 0.88), (25.12, 0.85), (25.13, 0.82), (25.15, 0.77), (25.17, 0.65),
    (25.18, 0.90), (25.20, 0.75), (25.21, 0.95), (25.23, 0.64), (25.25, 0.96), (25.26, 0.78), (25.28, 0.95),
    (25.29, 0.63), (25.31, 0.91), (25.33, 0.96), (25.36, 0.95), (25.37, 0.94), (25.39, 0.90), (25.41, 0.80),
    (25.42, 0.93), (25.44, 0.93), (25.45, 0.91), (25.47, 0.82), (25.49, 0.75), (25.50, 0.73), (25.52, 0.85),
    (25.53, 0.82), (25.55, 0.83), (25.57, 0.86), (25.58, 0.82), (25.60, 0.75), (25.61, 0.77), (25.63, 0.73),
    (25.65, 0.72), (25.66, 0.65), (25.68, 0.62), (25.69, 0.64), (25.71, 0.69), (25.73, 0.72), (25.74, 0.77),
    (25.76, 0.69), (25.77, 0.72), (25.79, 0.75), (25.81, 0.80), (25.82, 0.77), (25.84, 0.80), (25.85, 0.77),
    (25.87, 0.73), (25.89, 0.78), (25.90, 0.73), (25.92, 0.77), (25.93, 0.67), (25.95, 0.75), (25.97, 0.91),
    (25.98, 0.96), (26.00, 0.95), (26.01, 0.88), (26.03, 0.70), (26.05, 0.78), (26.06, 0.78), (26.08, 0.75),
    (26.09, 0.78), (26.11, 0.80), (26.13, 0.70), (26.14, 0.67), (26.16, 0.65), (26.17, 0.64), (26.19, 0.60),
    (26.21, 0.59), (26.22, 0.67), (26.24, 0.64), (26.25, 0.67), (26.27, 0.60), (26.29, 0.59), (26.30, 0.57),
    (26.32, 0.55), (26.33, 0.52), (26.35, 0.54), (26.37, 0.57), (26.38, 0.59), (26.39, 0.73), (26.40, 0.59),
    (26.41, 0.49), (26.43, 0.34), (26.45, 0.29), (26.46, 0.23), (26.48, 0.20), (26.49, 0.15), (26.51, 0.23),
    (26.53, 0.21), (26.54, 0.29), (26.56, 0.24), (26.57, 0.20), (26.59, 0.29), (26.61, 0.26), (26.62, 0.29),
    (26.64, 0.24), (26.65, 0.16), (26.67, 0.13), (26.69, 0.10), (26.70, 0.07), (26.72, 0.03), (26.74, 0.07),
    (26.75, 0.10), (26.77, 0.11), (26.78, 0.16), (26.80, 0.20),
    (26.82, 0.10), (26.83, 0.08), (26.85, 0.07), (26.86, 0.34), (26.88, 0.26), (26.90, 0.39), (26.91, 0.23),
    (26.93, 0.38), (26.94, 0.18), (26.96, 0.42), (26.97, 0.57), (26.99, 0.46), (27.00, 0.29), (27.02, 0.39),
    (27.03, 0.46), (27.04, 0.49), (27.06, 0.47), (27.07, 0.55), (27.09, 0.47), (27.10, 0.42), (27.12, 0.46),
    (27.14, 0.39), (27.15, 0.36), (27.17, 0.29), (27.18, 0.26), (27.20, 0.24), (27.21, 0.34), (27.23, 0.39),
    (27.24, 0.42), (27.26, 0.51), (27.27, 0.70), (27.29, 0.70), (27.30, 0.62), (27.32, 0.49), (27.33, 0.42),
    (27.35, 0.38), (27.36, 0.46), (27.38, 0.52), (27.39, 0.36), (27.41, 0.33), (27.42, 0.51), (27.44, 0.57),
    (27.46, 0.59), (27.47, 0.60), (27.49, 0.64), (27.50, 0.62), (27.52, 0.59), (27.53, 0.54), (27.55, 0.41),
    (27.56, 0.42), (27.58, 0.55), (27.59, 0.52), (27.61, 0.54), (27.62, 0.51), (27.64, 0.52), (27.65, 0.49),
    (27.67, 0.51), (27.68, 0.54), (27.70, 0.51), (27.71, 0.52), (27.73, 0.55), (27.74, 0.64), (27.76, 0.59),
    (27.78, 0.60), (27.79, 0.57), (27.81, 0.59), (27.82, 0.62), (27.84, 0.59), (27.85, 0.65), (27.87, 0.62),
    (27.88, 0.57), (27.90, 0.65), (27.91, 0.70), (27.93, 0.55), (27.94, 0.52), (27.96, 0.49), (27.97, 0.47),
    (27.99, 0.55), (28.00, 0.60), (28.02, 0.59), (28.03, 0.64), (28.04, 0.67), (28.06, 0.47), (28.07, 0.46),
    (28.09, 0.57), (28.10, 0.57), (28.12, 0.59), (28.13, 0.80), (28.15, 0.82), (28.16, 0.62), (28.18, 0.86),
    (28.19, 0.88), (28.21, 0.83), (28.22, 0.82), (28.24, 0.83), (28.25, 0.80), (28.27, 0.82), (28.28, 0.83),
    (28.30, 0.85), (28.31, 0.75), (28.32, 0.72), (28.34, 0.69), (28.35, 0.62), (28.37, 0.49), (28.39, 0.64),
    (28.40, 0.67), (28.42, 0.60), (28.43, 0.52), (28.45, 0.51), (28.46, 0.46), (28.48, 0.39), (28.49, 0.34),
    (28.51, 0.29), (28.52, 0.24), (28.54, 0.29), (28.55, 0.33), (28.57, 0.34), (28.58, 0.36), (28.60, 0.38),
    (28.61, 0.34), (28.63, 0.41), (28.64, 0.44), (28.66, 0.47), (28.68, 0.51), (28.69, 0.57), (28.71, 0.55),
    (28.72, 0.52), (28.74, 0.49), (28.75, 0.51), (28.77, 0.49), (28.78, 0.39), (28.80, 0.34), (28.81, 0.33),
    (28.83, 0.31), (28.84, 0.31), (28.86, 0.29), (28.87, 0.28), (28.89, 0.31), (28.90, 0.34), (28.92, 0.42),
    (28.93, 0.54), (28.95, 0.67), (28.97, 0.62), (28.98, 0.59), (29.00, 0.64), (29.01, 0.65), (29.03, 0.59),
    (29.04, 0.52), (29.06, 0.44), (29.07, 0.52), (29.09, 0.59), (29.10, 0.72), (29.12, 0.65), (29.13, 0.69),
    (29.15, 0.64), (29.16, 0.67), (29.18, 0.62), (29.19, 0.55), (29.21, 0.51), (29.22, 0.33), (29.24, 0.47),
    (29.25, 0.34), (29.27, 0.39), (29.29, 0.54), (29.30, 0.44), (29.32, 0.59), (29.33, 0.68), (29.35, 0.57),
    (29.36, 0.49), (29.38, 0.46), (29.39, 0.44), (29.41, 0.42), (29.42, 0.34), (29.44, 0.16), (29.45, 0.33),
    (29.47, 0.39), (29.48, 0.31), (29.50, 0.42), (29.51, 0.38), (29.53, 0.29), (29.54, 0.46), (29.56, 0.39),
    (29.57, 0.28), (29.59, 0.31), (29.61, 0.36), (29.62, 0.29), (29.64, 0.18), (29.65, 0.39), (29.67, 0.42),
    (29.68, 0.41), (29.70, 0.39), (29.71, 0.38), (29.73, 0.36), (29.74, 0.31), (29.76, 0.29), (29.77, 0.28),
    (29.79, 0.23), (29.80, 0.20), (29.82, 0.18), (29.83, 0.29), (29.85, 0.15), (29.86, 0.20), (29.88, 0.15),
    (29.90, 0.21), (29.91, 0.16), (29.93, 0.24), (29.94, 0.29), (29.96, 0.33), (29.97, 0.26), (29.99, 0.33),
    (30.00, 0.41), (30.02, 0.31), (30.03, 0.23), (30.05, 0.28), (30.06, 0.21), (30.08, 0.18), (30.09, 0.21),
    (30.11, 0.24), (30.12, 0.33), (30.14, 0.26), (30.15, 0.31), (30.17, 0.36), (30.18, 0.39), (30.20, 0.38),
    (30.21, 0.34), (30.23, 0.33), (30.25, 0.28), (30.26, 0.31), (30.28, 0.21), (30.29, 0.29), (30.31, 0.31),
    (30.32, 0.34), (30.34, 0.36), (30.35, 0.39), (30.37, 0.36), (30.38, 0.34), (30.41, 0.34), (30.43, 0.33),
    (30.44, 0.31), (30.46, 0.33), (30.47, 0.36), (30.49, 0.38), (30.52, 0.39), (30.53, 0.41), (30.55, 0.42),
    (30.57, 0.44), (30.58, 0.39), (30.60, 0.38), (30.61, 0.33), (30.63, 0.39), (30.64, 0.38), (30.66, 0.33),
    (30.67, 0.29), (30.69, 0.33), (30.70, 0.31), (30.72, 0.34), (30.73, 0.39), (30.75, 0.42), (30.76, 0.41),
    (30.78, 0.42), (30.79, 0.39), (30.81, 0.42), (30.82, 0.39), (30.84, 0.34), (30.86, 0.46), (30.87, 0.47),
    (30.89, 0.52), (30.90, 0.69), (30.92, 0.70), (30.93, 0.60), (30.95, 0.59), (30.96, 0.54), (30.98, 0.69),
    (30.99, 0.57), (31.01, 0.75), (31.02, 0.82), (31.04, 0.82), (31.05, 0.77), (31.07, 0.80), (31.08, 0.77),
    (31.10, 0.75), (31.11, 0.80), (31.13, 0.77), (31.14, 0.85), (31.16, 0.82), (31.18, 0.75), (31.19, 0.91),
    (31.21, 0.90), (31.22, 0.88), (31.24, 0.90), (31.25, 0.88), (31.27, 0.86), (31.28, 0.88), (31.30, 0.86),
    (31.31, 0.91), (31.33, 0.93), (31.34, 0.91), (31.36, 0.93), (31.37, 0.93), (31.39, 0.94), (31.40, 0.93),
    (31.42, 0.95), (31.46, 0.95), (31.49, 0.96), (31.50, 0.97),
]

day_ticks = list(range(18, 32))
day_labels = [str(d) for d in day_ticks]
value_ticks = [0.0, 0.2, 0.4, 0.6, 0.8, 1.0]

panels = [
    ("Shovel Creek", shovel_creek, "#0a8a0a"),
    ("Little Mt Susitna", little_mt_susitna, "#0b4a8c"),
    ("Combined", combined, "#000000"),
]

# axes boxes in figure fractions: (bottom, height)
boxes = [(0.670, 0.315), (0.339, 0.316), (0.044, 0.280)]

BG = "#f0f0f0"
fig = plt.figure(figsize=(17.52, 7.31), dpi=100, facecolor=BG)

for i, ((name, series, color), (bottom, height)) in enumerate(zip(panels, boxes)):
    ax = fig.add_axes([0.0365, bottom, 0.9578, height])
    ax.set_facecolor("white")
    t = np.array([p[0] for p in series])
    v = np.array([p[1] for p in series])
    ax.plot(t, v, drawstyle="steps-post", color=color, lw=1.7, solid_joinstyle="miter")

    ax.set_xlim(17.465, 31.52)
    ax.set_ylim(0.0, 1.0)

    ax.set_yticks(value_ticks)
    ax.set_yticklabels([f"{y:.1f}" for y in value_ticks])
    ax.set_yticks(np.arange(0.1, 1.0, 0.2), minor=True)
    ax.set_xticks(day_ticks)
    ax.set_xticks([d + 0.5 for d in range(17, 31)], minor=True)

    ax.grid(True, which="both", axis="y", color="#ececec", lw=0.9)
    ax.grid(True, which="minor", axis="x", color="#ececec", lw=0.9)
    ax.set_axisbelow(True)

    ax.tick_params(axis="y", which="major", length=3, width=0.8, color="#666666",
                   labelsize=9.5, labelcolor="#333333", pad=1)
    ax.tick_params(axis="y", which="minor", length=0)
    ax.tick_params(axis="x", which="major", length=0, labelsize=10.5, labelcolor="#333333", pad=3)
    ax.tick_params(axis="x", which="minor", length=3, width=0.8, color="#666666", direction="out")

    # nudge the 0.0 / 1.0 labels apart where two panels meet
    ylabels = ax.get_yticklabels()
    if i < 2:
        ylabels[0].set_transform(ylabels[0].get_transform() + ScaledTranslation(0, 0.025, fig.dpi_scale_trans))
    if i > 0:
        ylabels[-1].set_transform(ylabels[-1].get_transform() + ScaledTranslation(0, -0.025, fig.dpi_scale_trans))

    if i < 2:
        ax.tick_params(axis="x", which="both", labelbottom=False)
    else:
        ax.set_xticklabels(day_labels)
        ax.set_xlabel("December 2022", fontsize=11.5, fontweight="bold", labelpad=-2)

    ax.set_ylabel(name, fontsize=11, fontweight="bold", labelpad=6)

    for side in ax.spines.values():
        side.set_color("#8a8a8a")
        side.set_linewidth(1.2)

fig.savefig("out.png", dpi=100, facecolor=BG)
